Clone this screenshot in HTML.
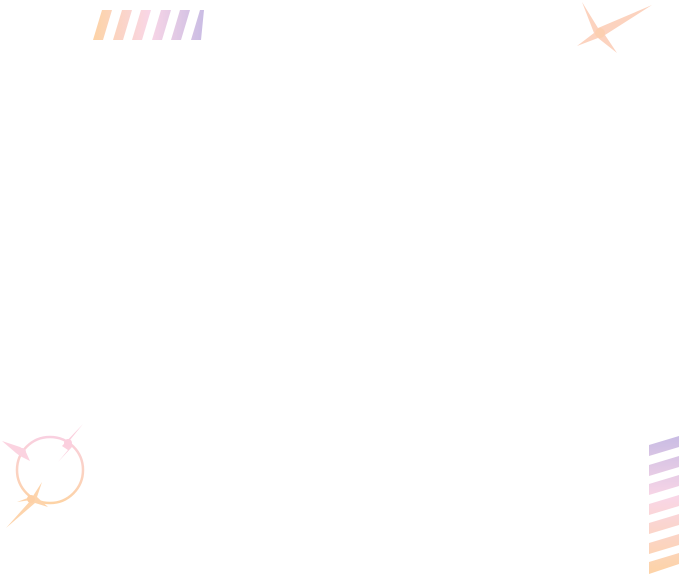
<!DOCTYPE html>
<html><head><style>html,body{margin:0;padding:0;background:#fff;width:679px;height:574px;overflow:hidden}</style></head>
<body>
<svg width="679" height="574" viewBox="0 0 679 574" xmlns="http://www.w3.org/2000/svg">
<defs>
<linearGradient id="gt" gradientUnits="userSpaceOnUse" x1="93" y1="0" x2="205" y2="0"><stop offset="0" stop-color="#fdd3a6"/><stop offset="0.5" stop-color="#f9d6e6"/><stop offset="1" stop-color="#c9bce4"/></linearGradient>
<linearGradient id="gr" gradientUnits="userSpaceOnUse" x1="0" y1="436" x2="0" y2="574"><stop offset="0" stop-color="#c9bce4"/><stop offset="0.45" stop-color="#f9d6e6"/><stop offset="1" stop-color="#fdd3a6"/></linearGradient>
<linearGradient id="gc" gradientUnits="userSpaceOnUse" x1="0" y1="437" x2="0" y2="503"><stop offset="0" stop-color="#f9d0e0"/><stop offset="1" stop-color="#fdd3a6"/></linearGradient>
</defs>
<g fill="url(#gt)">
<polygon points="93,40 102,10 112,10 103,40"/>
<polygon points="113,40 122,10 132,10 123,40"/>
<polygon points="132,40 141,10 151,10 142,40"/>
<polygon points="152,40 161,10 171,10 162,40"/>
<polygon points="171,40 180,10 190,10 181,40"/>
<polygon points="191,40 200,10 204,10 201,40"/>
</g>
<g fill="url(#gr)">
<polygon points="649,445 679,436 679,447 649,456"/>
<polygon points="649,465 679,456 679,467 649,476"/>
<polygon points="649,484 679,475 679,486 649,495"/>
<polygon points="649,504 679,495 679,506 649,515"/>
<polygon points="649,523 679,514 679,525 649,534"/>
<polygon points="649,543 679,534 679,545 649,554"/>
<polygon points="649,562 679,553 679,564 649,574"/>
</g>
<path d="M582,2 L598,28 L652,5 L605,35 L617,53 L598,38 L577,46 L594,33 Z" fill="#fcd3bf"/>
<circle cx="600" cy="33" r="5" fill="#fccfb0"/>
<ellipse cx="50" cy="470" rx="33" ry="33" fill="none" stroke="url(#gc)" stroke-width="2.5"/>
<path d="M2,441 L20,447 L25,450 L30,461 L20,456 L16,453 Z" fill="#fbd3e0"/>
<path d="M83,424 L70,440 L72,447 L58,462 L68,450 L62,446 Z" fill="#fbd0de"/>
<circle cx="68" cy="443" r="4" fill="#fbcfde"/>
<circle cx="22" cy="452" r="4" fill="#fbd3e0"/>
<path d="M42,482 L33,496 L17,502 L31,500 L6,528 L35,503 L48,507 L37,497 Z" fill="#fdd4ac"/>
<circle cx="31" cy="499" r="4" fill="#fdd0a6"/>
</svg>
</body></html>
